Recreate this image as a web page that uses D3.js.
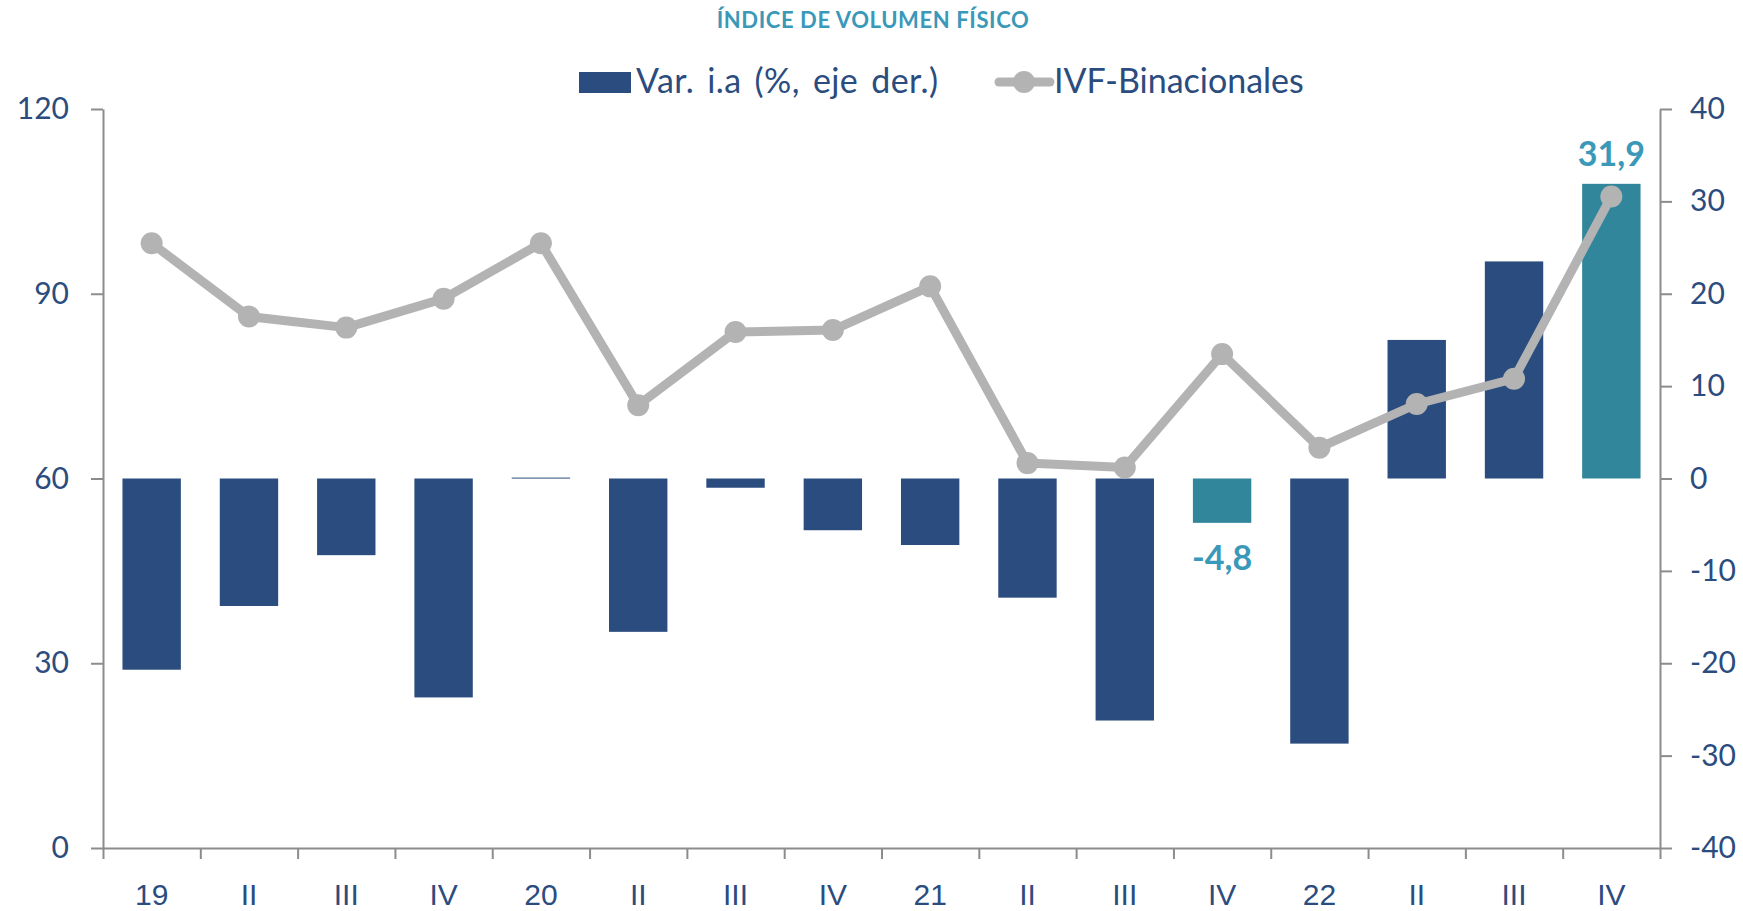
<!DOCTYPE html>
<html>
<head>
<meta charset="utf-8">
<script src="https://cdn.jsdelivr.net/npm/d3@7"></script>
<style>
  body { margin: 0; background: #fff; }
  svg { display: block; font-family: Lato, "Open Sans", sans-serif; }
</style>
</head>
<body>
<svg id="chart" width="1743" height="911"></svg>
<script>
// categories (quarters 2019-2022)
const quarters = ["19", "II", "III", "IV", "20", "II", "III", "IV", "21", "II", "III", "IV", "22", "II", "III", "IV"]
// Var. i.a (%) - right axis
const varIA = [-20.7, -13.8, -8.3, -23.7, 0.1, -16.6, -1.0, -5.6, -7.2, -12.9, -26.2, -4.8, -28.7, 15.0, 23.5, 31.9]
// IVF-Binacionales - left axis
const ivf = [98.2, 86.3, 84.5, 89.2, 98.2, 71.9, 83.8, 84.1, 91.2, 62.5, 61.8, 80.2, 65.0, 72.1, 76.2, 105.8]
// highlighted bars with labels
const highlighted = [11, 15]
const leftTicks = [0, 30, 60, 90, 120]
const rightTicks = [-40, -30, -20, -10, 0, 10, 20, 30, 40]

const navy = "#2b4c7e", teal = "#31869b", labelTeal = "#3a98b9", grey = "#b3b3b3", axisGrey = "#8c8c8c"

const svg = d3.select("#chart")
const margin = { left: 103, right: 1660, top: 109, bottom: 848 }

const x = d3.scaleBand().domain(d3.range(quarters.length))
    .range([margin.left, margin.right]).paddingInner(0.4).paddingOuter(0.2)
const yL = d3.scaleLinear().domain([0, 120]).range([margin.bottom, margin.top])
const yR = d3.scaleLinear().domain([-40, 40]).range([margin.bottom, margin.top])

// title
svg.append("text")
    .attr("x", 873).attr("y", 28)
    .attr("text-anchor", "middle")
    .attr("fill", labelTeal)
    .attr("font-size", 22).attr("font-weight", 700)
    .attr("letter-spacing", 0.6)
    .text("ÍNDICE DE VOLUMEN FÍSICO")

// bars
svg.append("g").selectAll("rect")
    .data(varIA)
    .enter().append("rect")
    .attr("x", (d, i) => x(i))
    .attr("width", x.bandwidth())
    .attr("y", d => yR(Math.max(0, d)))
    .attr("height", d => Math.max(1, Math.abs(yR(d) - yR(0))))
    .attr("fill", (d, i) => highlighted.includes(i) ? teal : navy)

// line
const cx = i => x(i) + x.bandwidth() / 2
svg.append("path")
    .datum(ivf)
    .attr("fill", "none")
    .attr("stroke", grey)
    .attr("stroke-width", 9)
    .attr("stroke-linejoin", "round")
    .attr("d", d3.line().x((d, i) => cx(i)).y(d => yL(d)))

svg.append("g").selectAll("circle")
    .data(ivf)
    .enter().append("circle")
    .attr("cx", (d, i) => cx(i))
    .attr("cy", d => yL(d))
    .attr("r", 11)
    .attr("fill", grey)

// data labels
svg.append("g").selectAll("text")
    .data(highlighted)
    .enter().append("text")
    .attr("x", i => cx(i))
    .attr("y", i => varIA[i] >= 0 ? yR(varIA[i]) - 18 : yR(varIA[i]) + 47)
    .attr("text-anchor", "middle")
    .attr("fill", labelTeal)
    .attr("font-size", 34).attr("font-weight", 700)
    .text(i => varIA[i].toFixed(1).replace(".", ","))

// axes
const styleAxis = g => {
  g.select(".domain").attr("stroke", axisGrey).attr("stroke-width", 2)
  g.selectAll(".tick line").attr("stroke", axisGrey).attr("stroke-width", 2)
  g.selectAll(".tick text").attr("fill", navy).attr("font-size", 30).attr("font-family", "Lato, sans-serif")
}

svg.append("g")
    .attr("transform", `translate(${margin.left},0)`)
    .call(d3.axisLeft(yL).tickValues(leftTicks).tickSize(12).tickPadding(22).tickSizeOuter(0))
    .call(styleAxis)

svg.append("g")
    .attr("transform", `translate(${margin.right},0)`)
    .call(d3.axisRight(yR).tickValues(rightTicks).tickSize(12).tickPadding(18).tickSizeOuter(0)
      .tickFormat(d => String(d)))
    .call(styleAxis)

// x axis: ticks at category boundaries
const xEdge = d3.scaleLinear().domain([0, quarters.length]).range([margin.left, margin.right])
const xg = svg.append("g").attr("transform", `translate(0,${margin.bottom})`)
xg.call(d3.axisBottom(xEdge).tickValues(d3.range(quarters.length + 1))
    .tickSize(11).tickFormat("").tickSizeOuter(0))
    .call(styleAxis)
xg.selectAll(".cat")
    .data(quarters)
    .enter().append("text")
    .attr("class", "cat")
    .attr("x", (d, i) => cx(i))
    .attr("y", 57)
    .attr("text-anchor", "middle")
    .attr("fill", navy)
    .attr("font-size", 30)
    .text(d => d)

// legend
const lg = svg.append("g")
lg.append("rect").attr("x", 579).attr("y", 72).attr("width", 52).attr("height", 21).attr("fill", navy)
lg.append("text").attr("x", 636).attr("y", 93).attr("fill", navy).attr("font-size", 34)
    .attr("word-spacing", 4).attr("letter-spacing", 0.4)
    .text("Var. i.a (%, eje der.)")
lg.append("line").attr("x1", 999).attr("x2", 1050).attr("y1", 82).attr("y2", 82)
    .attr("stroke", grey).attr("stroke-width", 9).attr("stroke-linecap", "round")
lg.append("circle").attr("cx", 1024).attr("cy", 82).attr("r", 11).attr("fill", grey)
lg.append("text").attr("x", 1054).attr("y", 93).attr("fill", navy).attr("font-size", 34)
    .text("IVF-Binacionales")
</script>
</body>
</html>
